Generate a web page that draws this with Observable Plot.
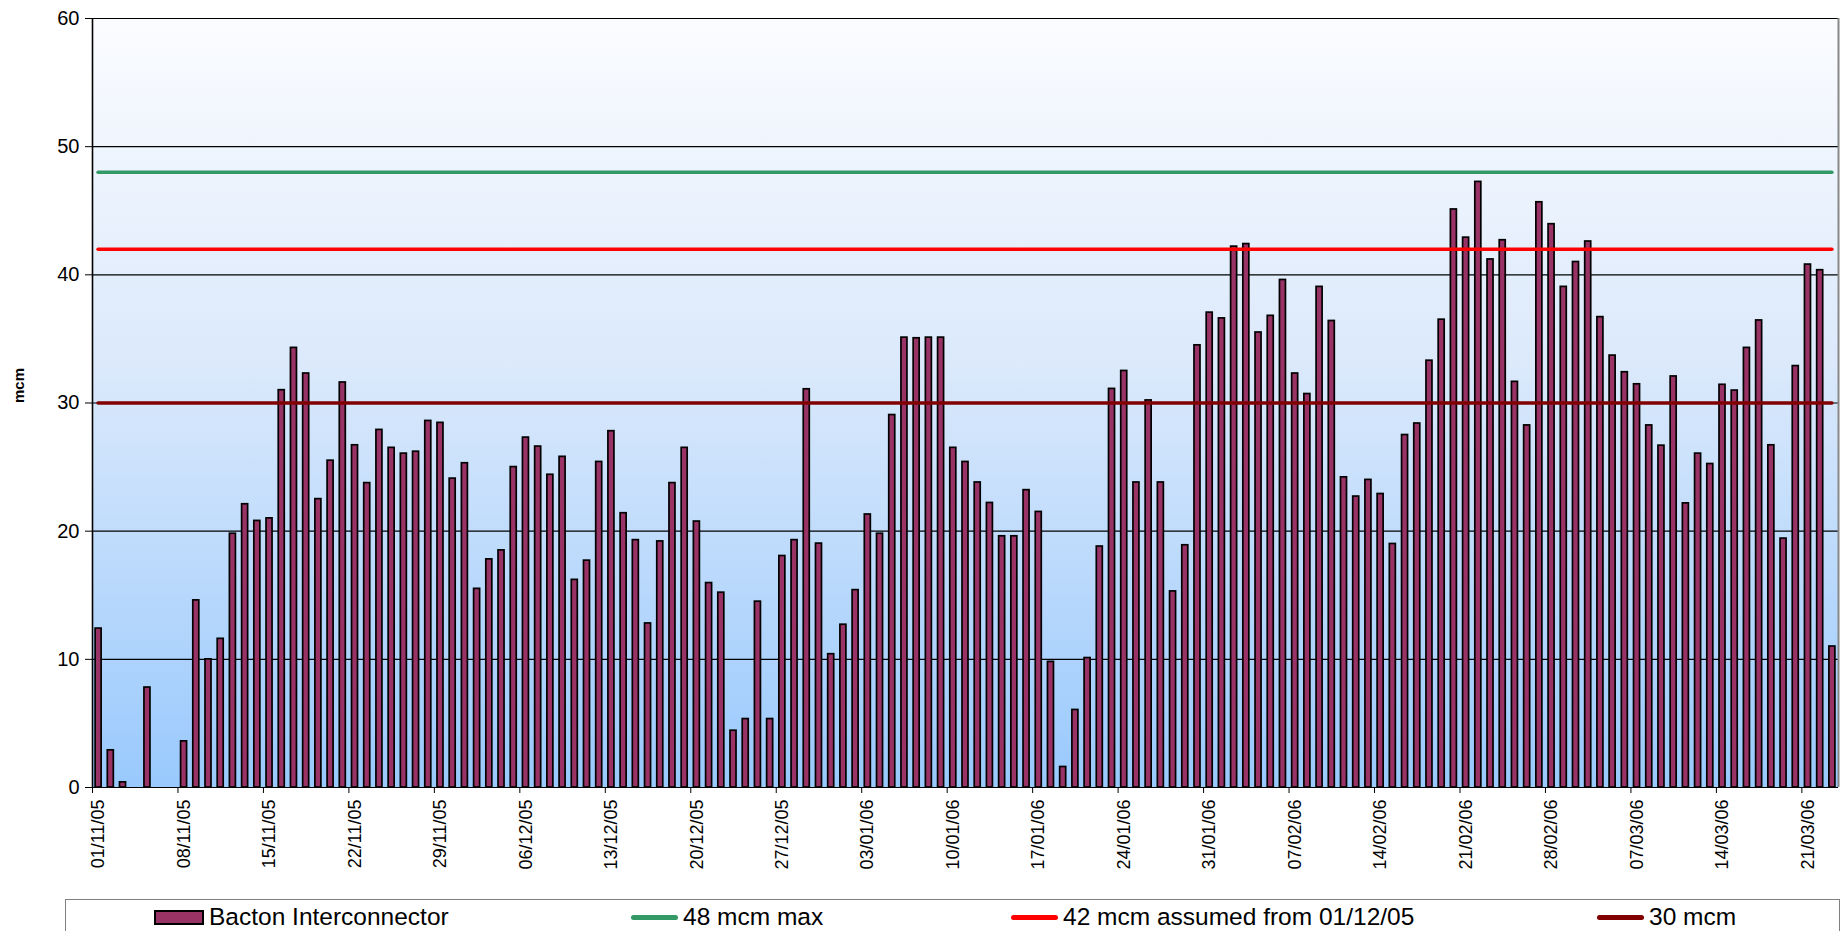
<!DOCTYPE html>
<html>
<head>
<meta charset="utf-8">
<script src="https://cdn.jsdelivr.net/npm/d3@7"></script>
<script src="https://cdn.jsdelivr.net/npm/@observablehq/plot@0.6"></script>
<style>
  html, body { margin: 0; padding: 0; background: #fff; overflow: hidden; }
  #wrap { position: relative; width: 1847px; height: 931px; font-family: "Liberation Sans", Arial, sans-serif; }
  #legend { position: absolute; left: 65px; top: 899px; width: 1775px; height: 60px; border: 1px solid #808080; background: #fff; box-sizing: border-box; }
  .item { position: absolute; top: 0; height: 34px; display: flex; align-items: center; font-size: 24.5px; color: #000; white-space: nowrap; }
  .sw-bar { width: 50px; height: 15px; background: #993366; border: 2px solid #000; margin-right: 5px; box-sizing: border-box; }
  .sw-line { width: 47px; height: 5px; border-radius: 3px; margin-right: 5px; }
</style>
</head>
<body>
<div id="wrap"><div id="chart"></div><div id="legend"></div></div>
<script>
// ---- data ----
const startDate = "2005-11-01";
const seriesName = "Bacton Interconnector";
const values = [
  12.4, 2.9, 0.4, 0, 7.8, 0, 0, 3.6, 14.6, 10.0, 11.6, 19.8, 22.1, 20.8, 21.0, 31.0, 34.3, 32.3, 22.5, 25.5, 31.6, 26.7, 23.75, 27.9, 26.5,
  26.05, 26.2, 28.6, 28.45, 24.1, 25.3, 15.5, 17.8, 18.5, 25.0, 27.3, 26.6, 24.4, 25.8, 16.2, 17.7, 25.4, 27.8, 21.4, 19.3, 12.8, 19.2, 23.75,
  26.5, 20.75, 15.95, 15.2, 4.43, 5.34, 14.5, 5.34, 18.06, 19.3, 31.07, 19.03, 10.4, 12.7, 15.4, 21.3, 19.8, 29.06, 35.1, 35.05, 35.1, 35.1, 26.5,
  25.4, 23.8, 22.2, 19.6, 19.6, 23.2, 21.5, 9.8, 1.6, 6.05, 10.1, 18.8, 31.1, 32.5, 23.8, 30.2, 23.8, 15.3, 18.9, 34.5, 37.05, 36.6, 42.2,
  42.4, 35.5, 36.8, 39.6, 32.3, 30.7, 39.06, 36.4, 24.2, 22.7, 24.0, 22.9, 19.0, 27.5, 28.4, 33.3, 36.5, 45.1, 42.9, 47.25, 41.2, 42.7, 31.65,
  28.25, 45.66, 43.95, 39.06, 41.0, 42.6, 36.7, 33.7, 32.4, 31.46, 28.25, 26.67, 32.07, 22.17, 26.05, 25.24, 31.42, 30.97, 34.3, 36.44, 26.7, 19.42, 32.88, 40.8, 40.36, 11.0
];
const tickLabels = ["01/11/05","08/11/05","15/11/05","22/11/05","29/11/05","06/12/05","13/12/05","20/12/05","27/12/05",
  "03/01/06","10/01/06","17/01/06","24/01/06","31/01/06","07/02/06","14/02/06","21/02/06","28/02/06","07/03/06","14/03/06","21/03/06"];
const yTicks = [0, 10, 20, 30, 40, 50, 60];
const limitValues = [48, 42, 30];
const limitLabels = ["48 mcm max", "42 mcm assumed from 01/12/05", "30 mcm"];
const yLabel = "mcm";

// ---- styles ----
const limitColors = ["#339966", "#ff0000", "#800000"];
const barColor = "#993366";

// ---- build ----
const parse = d3.utcParse("%d/%m/%y");
const start = d3.utcParse("%Y-%m-%d")(startDate);
const rows = values.map((v, i) => ({date: d3.utcDay.offset(start, i), value: v}));
const end = d3.utcDay.offset(start, values.length);
const firstNoon = d3.utcHour.offset(start, 12);
const lastNoon = d3.utcHour.offset(d3.utcDay.offset(start, values.length - 1), 12);
const tickDates = tickLabels.map(parse);
const limits = limitValues.map((v, i) => ({value: v, label: limitLabels[i], color: limitColors[i]}));
const fmt = d3.utcFormat("%d/%m/%y");

const plot = Plot.plot({
  width: 1847,
  height: 895,
  marginTop: 18,
  marginBottom: 108,
  marginLeft: 92,
  marginRight: 9,
  style: {fontFamily: "'Liberation Sans', Arial, sans-serif", color: "#000", background: "transparent"},
  x: {type: "utc", domain: [start, end]},
  y: {domain: [0, 60]},
  marks: [
    Plot.frame({fill: "url(#bgGrad)", stroke: null}),
    Plot.ruleY(yTicks.filter(d => d > 0), {stroke: "#000", strokeWidth: 1.2}),
    Plot.ruleX([end], {stroke: "#888", strokeWidth: 2}),
    Plot.rectY(rows.filter(d => d.value > 0), {
      x1: "date", x2: d => d3.utcDay.offset(d.date, 1), y: "value",
      insetLeft: 3.1, insetRight: 3.1,
      fill: barColor, stroke: "#000", strokeWidth: 1.7
    }),
    Plot.ruleY(limits, {y: "value", x1: () => firstNoon, x2: () => lastNoon, stroke: d => d.color, strokeWidth: 3.6, strokeLinecap: "round"}),
    Plot.ruleY([0], {stroke: "#000", strokeWidth: 1.2}),
    Plot.ruleX([start], {stroke: "#000", strokeWidth: 1.6}),
    Plot.axisY({ticks: yTicks, tickSize: 7, tickPadding: 6, fontSize: 20, label: null, stroke: "#000"}),
    Plot.axisX({ticks: tickDates, tickSize: 6, tickFormat: () => "", label: null, stroke: "#000"}),
    Plot.axisX({ticks: tickDates, tickSize: 0, tickPadding: 12, tickRotate: -90, dx: 6, fontSize: 18, tickFormat: fmt, label: null}),
    Plot.text([yLabel], {frameAnchor: "left", dx: -73, rotate: -90, fontSize: 15, fontWeight: "bold", fill: "#000"})
  ]
});

const svg = d3.select(plot);
svg.insert("defs", ":first-child").html(
  '<linearGradient id="bgGrad" x1="0" y1="0" x2="0" y2="1">' +
  '<stop offset="0" stop-color="#fbfcff"/>' +
  '<stop offset="0.45" stop-color="#dbe9fb"/>' +
  '<stop offset="1" stop-color="#99c9fd"/>' +
  '</linearGradient>');
document.getElementById("chart").appendChild(plot);

// legend
const legend = document.getElementById("legend");
const legendX = [88, 565, 945, 1531];
function addItem(left, swatch, text) {
  const it = document.createElement("div");
  it.className = "item";
  it.style.left = left + "px";
  it.appendChild(swatch);
  const t = document.createElement("span");
  t.textContent = text;
  it.appendChild(t);
  legend.appendChild(it);
}
const sb = document.createElement("div"); sb.className = "sw-bar";
addItem(legendX[0], sb, seriesName);
limits.forEach((l, i) => {
  const s = document.createElement("div"); s.className = "sw-line"; s.style.background = l.color;
  addItem(legendX[i + 1], s, l.label);
});
</script>
</body>
</html>
